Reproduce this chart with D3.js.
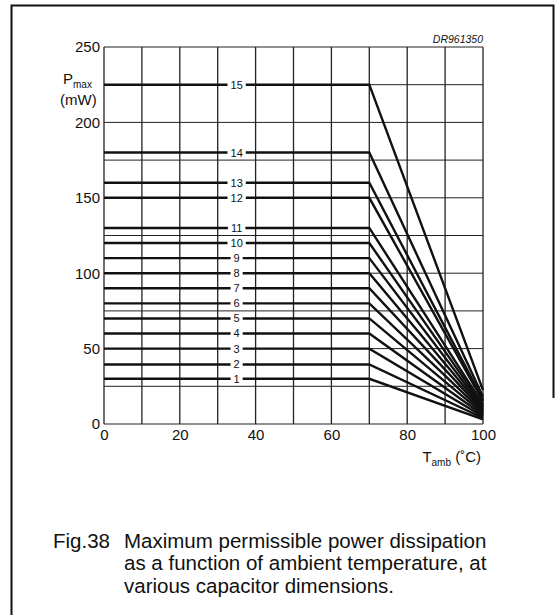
<!DOCTYPE html>
<html><head><meta charset="utf-8">
<script src="https://cdn.jsdelivr.net/npm/d3@7/dist/d3.min.js"></script>
<style>
html,body{margin:0;padding:0;background:#fff;}
svg{display:block;}
text{font-family:"Liberation Sans",Arial,Helvetica,sans-serif;fill:#111;}
</style></head>
<body>
<script>
// ---- data ----
const curveLabels = ["1","2","3","4","5","6","7","8","9","10","11","12","13","14","15"];
const pmaxValues  = [30, 39.5, 50, 60, 70, 80, 90, 100, 110, 120, 130, 150, 160, 180, 225];
const endValues   = [3, 4, 5, 6, 7, 8, 9, 10, 11, 12, 13, 15, 16, 18, 22.5];
const kneeTemp = 70;
const endTemp = 100;
const startTemp = 0;
const labelTemp = 35;
const xTicks = [0, 20, 40, 60, 80, 100];
const yTicks = [0, 50, 100, 150, 200, 250];
const xGrid = [0,10,20,30,40,50,60,70,80,90,100];
const yGrid = [0,25,50,75,100,125,150,175,200,225,250];
const captionLines = ["Maximum permissible power dissipation","as a function of ambient temperature, at","various capacitor dimensions."];

// ---- layout ----
const W = 555, H = 615;
const svg = d3.select("body").append("svg").attr("width", W).attr("height", H);
svg.append("rect").attr("width", W).attr("height", H).attr("fill", "#fff");

// outer frame
svg.append("path").attr("d", "M11.5,615 L11.5,5.5 L553.5,5.5 L553.5,398")
  .attr("fill","none").attr("stroke","#111").attr("stroke-width",2);

const x = d3.scaleLinear().domain([0,100]).range([104,483]);
const y = d3.scaleLinear().domain([0,250]).range([424,47]);

// grid
const g = svg.append("g");
g.selectAll(".vg").data(xGrid).join("line")
  .attr("x1", d=>x(d)).attr("x2", d=>x(d)).attr("y1", y(0)).attr("y2", y(250))
  .attr("stroke","#222").attr("stroke-width",1.3);
g.selectAll(".hg").data(yGrid).join("line")
  .attr("y1", d=>y(d)).attr("y2", d=>y(d)).attr("x1", x(0)).attr("x2", x(100))
  .attr("stroke","#222").attr("stroke-width",1);

// axes tick labels via d3 axes (domain hidden)
const xAxis = d3.axisBottom(x).tickValues(xTicks).tickSize(0).tickPadding(5);
const yAxis = d3.axisLeft(y).tickValues(yTicks).tickSize(0).tickPadding(4);
const gx = svg.append("g").attr("transform",`translate(0,${y(0)})`).call(xAxis);
const gy = svg.append("g").attr("transform",`translate(${x(0)},0)`).call(yAxis);
[gx,gy].forEach(a=>{
  a.select(".domain").remove();
  a.selectAll("text").attr("font-size",15).attr("fill","#111")
   .attr("font-family",'"Liberation Sans",Arial,sans-serif');
});

// curves
const data = curveLabels.map((lab,i)=>({lab, pts:[[startTemp,pmaxValues[i]],[kneeTemp,pmaxValues[i]],[endTemp,endValues[i]]]}));
const line = d3.line().x(d=>x(d[0])).y(d=>y(d[1]));
svg.append("g").selectAll("path").data(data).join("path")
  .attr("d", d=>line(d.pts)).attr("fill","none").attr("stroke","#111")
  .attr("stroke-width",2.4).attr("stroke-linejoin","miter");

// curve labels with white gaps
const lg = svg.append("g");
data.forEach((d,i)=>{
  const cx = x(labelTemp), cy = y(pmaxValues[i]);
  const t = lg.append("text").attr("x",cx).attr("y",cy).attr("dy","0.36em")
    .attr("text-anchor","middle").attr("font-size",11).text(d.lab);
  const bb = t.node().getBBox();
  lg.insert("rect","text").attr("x",bb.x-3).attr("y",cy-2.5).attr("width",bb.width+6).attr("height",5).attr("fill","#fff");
});

// axis titles
const yt = svg.append("text").attr("x",63).attr("y",84).attr("font-size",15);
yt.append("tspan").text("P");
yt.append("tspan").attr("font-size",10).attr("dy",3.5).text("max");
svg.append("text").attr("x",60).attr("y",105).attr("font-size",15).text("(mW)");

const xt = svg.append("text").attr("x",481).attr("y",462).attr("text-anchor","end").attr("font-size",15);
xt.append("tspan").text("T");
xt.append("tspan").attr("font-size",10).attr("dy",4).text("amb");
xt.append("tspan").attr("dy",-4).text(" (\u02daC)");

// drawing id
svg.append("text").attr("x",483).attr("y",43).attr("text-anchor","end")
  .attr("font-size",10.5).attr("font-style","italic").text("DR961350");

// caption
svg.append("text").attr("x",53).attr("y",548).attr("font-size",20.5).text("Fig.38");
captionLines.forEach((s,i)=>{
  svg.append("text").attr("x",124).attr("y",548+i*22.3).attr("font-size",20.5).text(s);
});
</script>
</body></html>
